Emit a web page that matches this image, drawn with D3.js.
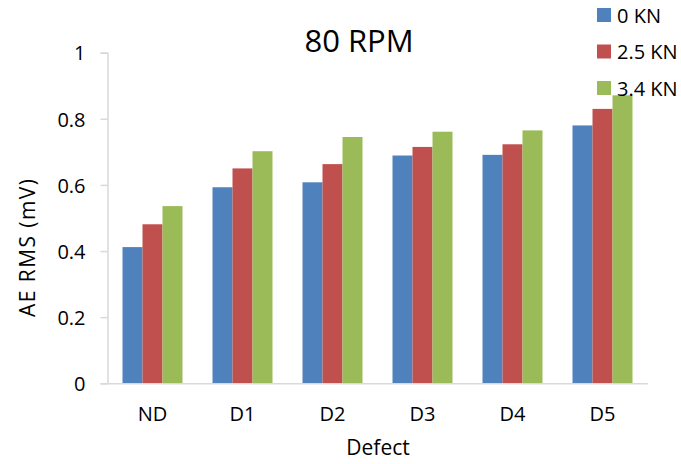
<!DOCTYPE html>
<html>
<head>
<meta charset="utf-8">
<script src="https://cdn.jsdelivr.net/npm/d3@7"></script>
<style>
  html, body { margin: 0; padding: 0; background: #fff; }
  svg { display: block; font-family: "Open Sans", "Liberation Sans", sans-serif; }
</style>
</head>
<body>
<svg id="chart" width="681" height="464"></svg>
<script>
// AE RMS readings per defect case, one series per radial load
const categories = ["ND", "D1", "D2", "D3", "D4", "D5"];
const seriesNames = ["0 KN", "2.5 KN", "3.4 KN"];
const load0 = [0.412, 0.593, 0.608, 0.689, 0.691, 0.780];
const load25 = [0.481, 0.650, 0.663, 0.715, 0.723, 0.830];
const load34 = [0.536, 0.702, 0.745, 0.761, 0.765, 0.871];
const seriesColors = ["#4F81BD", "#C0504D", "#9BBB59"];
const yTicks = [0, 0.2, 0.4, 0.6, 0.8, 1];
const yTickLabels = ["0", "0.2", "0.4", "0.6", "0.8", "1"];

const seriesValues = [load0, load25, load34];
const rows = categories.map((c, i) => ({
  cat: c,
  vals: seriesNames.map((s, k) => ({ key: s, value: seriesValues[k][i], color: seriesColors[k] }))
}));

const svg = d3.select("#chart");
const axisColor = "#D9D9D9";
const textColor = "#000";

const y = d3.scaleLinear().domain([0, 1]).range([383.3, 52.7]);
const x = d3.scaleBand().domain(categories).range([107.5, 647.5])
  .paddingInner(1 / 3).paddingOuter(1 / 6);
const xInner = d3.scaleBand().domain(seriesNames).range([0, x.bandwidth()]);

// bars
const groups = svg.append("g").selectAll("g").data(rows).join("g")
  .attr("transform", d => `translate(${x(d.cat)},0)`);
groups.selectAll("rect").data(d => d.vals).join("rect")
  .attr("x", d => xInner(d.key))
  .attr("width", xInner.bandwidth())
  .attr("y", d => y(d.value))
  .attr("height", d => y(0) - y(d.value))
  .attr("fill", d => d.color);

// y axis
const yAxis = d3.axisLeft(y).tickValues(yTicks)
  .tickFormat((d, i) => yTickLabels[i]).tickSize(7).tickPadding(15);
const gy = svg.append("g").attr("transform", "translate(107.5,0)").call(yAxis);
gy.select(".domain").attr("stroke", axisColor).attr("stroke-width", 1.5);
gy.selectAll(".tick line").attr("stroke", axisColor).attr("stroke-width", 1.5);
gy.selectAll(".tick text").attr("fill", textColor)
  .style("font-size", "20px").attr("dy", "0.36em")
  .style("font-family", "'Open Sans', sans-serif");

// x axis: baseline plus category labels, no tick marks
const xAxis = d3.axisBottom(x).tickSize(0).tickPadding(24).tickSizeOuter(0);
const gx = svg.append("g").attr("transform", `translate(0,${y(0)})`).call(xAxis);
gx.select(".domain").attr("stroke", axisColor).attr("stroke-width", 1.5);
gx.selectAll(".tick text").attr("fill", textColor)
  .style("font-size", "20px")
  .style("font-family", "'Open Sans', sans-serif");

// axis titles
svg.append("text")
  .attr("x", 378).attr("y", 455)
  .attr("text-anchor", "middle").attr("fill", textColor)
  .style("font-size", "21px")
  .text("Defect");

svg.append("text")
  .attr("transform", "translate(35,248) rotate(-90)")
  .attr("text-anchor", "middle").attr("fill", textColor)
  .style("font-size", "21px")
  .attr("textLength", 138).attr("lengthAdjust", "spacing")
  .text("AE RMS (mV)");

// chart title
svg.append("text")
  .attr("x", 359).attr("y", 52)
  .attr("text-anchor", "middle").attr("fill", textColor)
  .style("font-size", "31px")
  .text("80 RPM");

// legend
const legend = svg.append("g").selectAll("g").data(seriesNames).join("g")
  .attr("transform", (d, i) => `translate(597,${8 + i * 36.5})`);
legend.append("rect")
  .attr("width", 14).attr("height", 14)
  .attr("fill", (d, i) => seriesColors[i]);
legend.append("text")
  .attr("x", 20).attr("y", 14.5)
  .attr("fill", textColor)
  .style("font-size", "20px")
  .text(d => d);
</script>
</body>
</html>
